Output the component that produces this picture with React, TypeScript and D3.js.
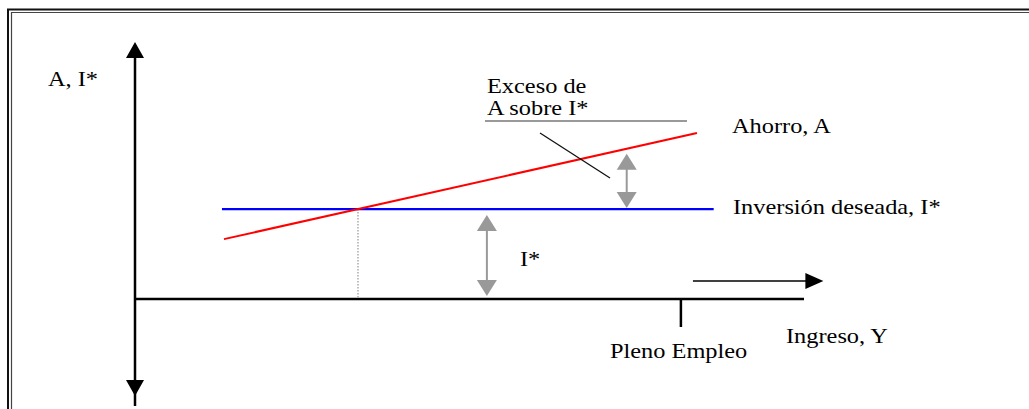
import React from "react";
import * as d3 from "d3";

const W = 1029;
const H = 409;

// Abstract model values (units of the diagram)
const investmentLevel = [35]; // I*
const investmentX = [13, 86.5];
const savingsPoints: [number, number][] = [
  [13.3, 23.3],
  [84.0, 64.6],
];
const fullEmploymentX = [81.6];
const excessArrowX = [73.5];
const iStarArrowX = [52.6];
const incomeArrowX = [83.4, 102.9];
const incomeArrowY = [7];

const labels = {
  yAxis: "A, I*",
  excess1: "Exceso de",
  excess2: "A sobre I*",
  savings: "Ahorro, A",
  investment: "Inversión deseada, I*",
  iStar: "I*",
  fullEmp: "Pleno Empleo",
  income: "Ingreso, Y",
};

const FONT = "'Liberation Serif', 'Times New Roman', serif";

function Txt({ x, y, children }: { x: number; y: number; children: React.ReactNode }) {
  return (
    <text
      transform={`translate(${x},${y}) scale(1.16,1)`}
      fontFamily={FONT}
      fontSize={21}
      fill="#000"
    >
      {children}
    </text>
  );
}

export default function App() {
  const x = d3.scaleLinear().domain([0, 100]).range([135, 804]);
  const y = d3.scaleLinear().domain([0, 100]).range([299, 42]);

  const savingsY = (v: number) => {
    const [[x0, y0], [x1, y1]] = savingsPoints;
    return y0 + ((y1 - y0) * (v - x0)) / (x1 - x0);
  };
  const [[sx0], [sx1]] = savingsPoints;
  const interX = sx0 + ((investmentLevel[0] - savingsPoints[0][1]) * (sx1 - sx0)) / (savingsPoints[1][1] - savingsPoints[0][1]);

  const line = d3.line<[number, number]>().x((d) => x(d[0])).y((d) => y(d[1]));

  const ax = x(0);
  const ay = y(0);

  const grayArrow = (px: number, yTop: number, yBot: number) => {
    const hw = 10;
    const hh = 16;
    return (
      <g>
        <line x1={px} x2={px} y1={yTop + hh - 2} y2={yBot - hh + 2} stroke="#999" strokeWidth={2} />
        <path d={`M${px},${yTop} L${px - hw},${yTop + hh} L${px + hw},${yTop + hh} Z`} fill="#999" />
        <path d={`M${px},${yBot} L${px - hw},${yBot - hh} L${px + hw},${yBot - hh} Z`} fill="#999" />
      </g>
    );
  };

  const invY = y(investmentLevel[0]);
  const exX = x(excessArrowX[0]);
  const exTop = y(savingsY(excessArrowX[0])) + 5;

  return (
    <svg
      width={W}
      height={H}
      style={{ position: "fixed", left: 0, top: 0, background: "#fff" }}
    >
      <rect x={0} y={0} width={W} height={H} fill="#fff" />
      {/* double frame */}
      <path d={`M8,${H + 5} L8,9.5 L${W + 5},9.5`} fill="none" stroke="#111" strokeWidth={2} />
      <path d={`M11.5,${H + 5} L11.5,12.5 L${W + 5},12.5`} fill="none" stroke="#444" strokeWidth={1.2} />

      {/* vertical axis */}
      <line x1={ax} x2={ax} y1={56} y2={406} stroke="#000" strokeWidth={2.5} />
      <path d={`M${ax},42 L${ax - 9},58 L${ax + 9},58 Z`} fill="#000" />
      <path d={`M${ax},396 L${ax - 9},380 L${ax + 9},380 Z`} fill="#000" />

      {/* horizontal axis */}
      <line x1={ax} x2={x(100)} y1={ay} y2={ay} stroke="#000" strokeWidth={2.5} />
      {/* full employment tick */}
      <line x1={x(fullEmploymentX[0])} x2={x(fullEmploymentX[0])} y1={ay} y2={327} stroke="#000" strokeWidth={2.5} />

      {/* income arrow */}
      <line
        x1={x(incomeArrowX[0])}
        x2={x(incomeArrowX[1]) - 12}
        y1={y(incomeArrowY[0])}
        y2={y(incomeArrowY[0])}
        stroke="#000"
        strokeWidth={1.3}
      />
      <path
        d={`M${x(incomeArrowX[1])},${y(incomeArrowY[0])} L${x(incomeArrowX[1]) - 18},${y(incomeArrowY[0]) - 8} L${x(incomeArrowX[1]) - 18},${y(incomeArrowY[0]) + 8} Z`}
        fill="#000"
      />

      {/* dotted drop line */}
      <line
        x1={x(interX)}
        x2={x(interX)}
        y1={invY}
        y2={ay}
        stroke="#aaa"
        strokeWidth={1.5}
        strokeDasharray="1.5,1.5"
      />

      {/* investment line */}
      <line x1={x(investmentX[0])} x2={x(investmentX[1])} y1={invY} y2={invY} stroke="#0000ff" strokeWidth={2.2} />

      {/* savings line */}
      <path d={line(savingsPoints) || ""} stroke="#ff0000" strokeWidth={2} fill="none" />

      {/* gray arrows */}
      {grayArrow(x(iStarArrowX[0]), invY + 6, ay - 3)}
      {grayArrow(exX, exTop, invY - 1)}

      {/* annotation lines */}
      <line x1={485} x2={687} y1={121} y2={121} stroke="#777" strokeWidth={1.3} />
      <line x1={540} x2={610} y1={133} y2={178} stroke="#111" strokeWidth={1.3} />

      {/* texts */}
      <Txt x={48} y={86}>{labels.yAxis}</Txt>
      <Txt x={487} y={93}>{labels.excess1}</Txt>
      <Txt x={487} y={115}>{labels.excess2}</Txt>
      <Txt x={732} y={133}>{labels.savings}</Txt>
      <Txt x={733} y={214}>{labels.investment}</Txt>
      <Txt x={520} y={266}>{labels.iStar}</Txt>
      <Txt x={610} y={358}>{labels.fullEmp}</Txt>
      <Txt x={786} y={343}>{labels.income}</Txt>
    </svg>
  );
}
